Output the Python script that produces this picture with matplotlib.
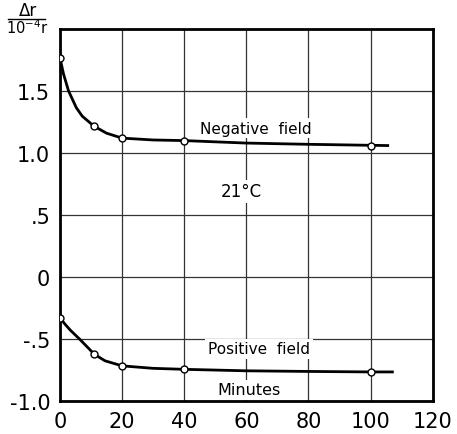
import matplotlib
matplotlib.use("Agg")
import matplotlib.pyplot as plt
from matplotlib.lines import Line2D

# measured points (open circles)
t_pts = [0, 11, 20, 40, 100]
neg_pts = [1.77, 1.216, 1.12, 1.10, 1.06]
pos_pts = [-0.33, -0.622, -0.717, -0.745, -0.766]

# smooth curves
t_neg_curve = [0, 1.2, 2.8, 5.3, 7.2, 11, 15, 20, 30, 40, 60, 80, 100, 105.5]
neg_curve = [1.77, 1.635, 1.50, 1.365, 1.297, 1.216, 1.16, 1.12, 1.105, 1.10, 1.08, 1.07, 1.062, 1.06]
t_pos_curve = [0, 1.7, 3.4, 6.3, 9.3, 11, 14.5, 20, 30, 40, 60, 80, 100, 107]
pos_curve = [-0.33, -0.382, -0.43, -0.50, -0.577, -0.622, -0.676, -0.717, -0.737, -0.745, -0.757, -0.762, -0.766, -0.766]

xticks = [0, 20, 40, 60, 80, 100, 120]
yticks = [-1.0, -0.5, 0, 0.5, 1.0, 1.5]
ytick_labels = ["-1.0", "-.5", "0", ".5", "1.0", "1.5"]

fig = plt.figure(figsize=(4.57, 4.35), dpi=100)
ax = fig.add_axes([0.131, 0.076, 0.816, 0.855])

ax.set_xlim(0, 120)
ax.set_ylim(-1.0, 2.0)
ax.set_xticks(xticks)
ax.set_yticks(yticks)
ax.set_yticklabels(ytick_labels)
ax.tick_params(length=0, labelsize=15, pad=7)
ax.grid(True, color="#333333", lw=0.9)
ax.set_axisbelow(True)
for s in ax.spines.values():
    s.set_linewidth(2.0)

ax.plot(t_neg_curve, neg_curve, color="black", lw=2.0, zorder=4)
ax.plot(t_pos_curve, pos_curve, color="black", lw=2.0, zorder=4)
ax.plot(t_pts, neg_pts, "o", ms=5, mfc="white", mec="black", mew=1.0, zorder=5)
ax.plot(t_pts, pos_pts, "o", ms=5, mfc="white", mec="black", mew=1.0, zorder=5)

box = dict(facecolor="white", edgecolor="none", pad=2)
ax.text(63, 1.2, "Negative  field", fontsize=11, ha="center", va="center", bbox=box, zorder=3)
ax.text(58.5, 0.69, "21°C", fontsize=12, ha="center", va="center", bbox=box, zorder=3)
ax.text(64, -0.58, "Positive  field", fontsize=11, ha="center", va="center", bbox=box, zorder=3)
ax.text(61, -0.91, "Minutes", fontsize=11.5, ha="center", va="center", bbox=box, zorder=3)

# y-axis unit written as a fraction above the axis
fig.text(28 / 457, 1 - 11 / 435, "Δr", fontsize=12, ha="center", va="center")
fig.add_artist(Line2D([8 / 457, 45 / 457], [1 - 20 / 435, 1 - 20 / 435],
                      color="black", lw=1.0))
fig.text(27 / 457, 1 - 28 / 435, "10$^{-4}$r", fontsize=10.5, ha="center", va="center")

fig.savefig("out.png", dpi=100)
